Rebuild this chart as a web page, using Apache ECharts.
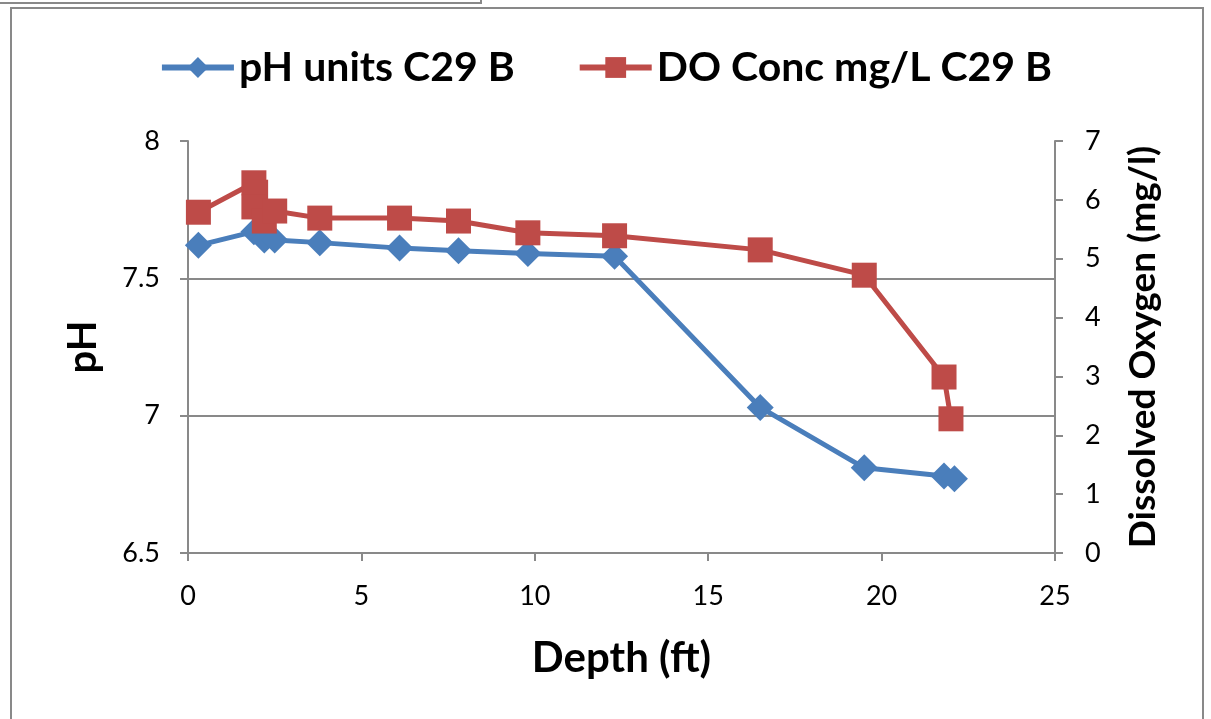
<!DOCTYPE html>
<html>
<head>
<meta charset="utf-8">
<script src="https://cdn.jsdelivr.net/npm/echarts@6/dist/echarts.min.js"></script>
<style>
  html, body { margin: 0; padding: 0; background: #fff; }
  #chart { width: 1211px; height: 719px; }
</style>
</head>
<body>
<div id="chart"></div>
<script>
// depth (ft) and pH readings
var phDepth  = [0.3, 1.9, 2.2, 2.5, 3.8, 6.1, 7.8, 9.8, 12.3, 16.5, 19.5, 21.8, 22.1];
var phValues = [7.62, 7.67, 7.64, 7.64, 7.63, 7.61, 7.60, 7.59, 7.58, 7.03, 6.81, 6.78, 6.77];

// depth (ft) and dissolved oxygen readings
var doDepth  = [0.3, 1.9, 1.95, 1.9, 2.2, 2.5, 3.8, 6.1, 7.8, 9.8, 12.3, 16.5, 19.5, 21.8, 22.0];
var doValues = [5.79, 6.29, 6.13, 5.88, 5.64, 5.81, 5.69, 5.69, 5.64, 5.44, 5.39, 5.15, 4.72, 2.99, 2.28];

var depthTicks = [0, 25, 5];
var phTicks = [6.5, 8, 0.5];
var doTicks = [0, 7, 1];

var blue = '#4a7ebb', red = '#be4b48', grey = '#898989';
var font = 'Lato, "Open Sans", sans-serif';

function pairs(xs, ys) {
    return xs.map(function (x, i) { return [x, ys[i]]; });
}

var chart = echarts.init(document.getElementById('chart'));
var frame = { stroke: grey, lineWidth: 2 };

chart.setOption({
    animation: false,
    textStyle: { fontFamily: font, color: '#000' },
    graphic: [
        { type: 'polyline', shape: { points: [[0, 3], [481, 3], [481, 0]] }, style: frame },
        { type: 'polyline', shape: { points: [[11, 719], [11, 8], [1203, 8], [1203, 719]] }, style: frame }
    ],
    legend: {
        top: 42,
        left: 'center',
        itemWidth: 72,
        itemHeight: 26,
        itemGap: 62,
        lineStyle: { width: 6 },
        textStyle: { fontSize: 41, fontWeight: 'bold', fontFamily: font, color: '#000' },
        data: ['pH units C29 B', 'DO Conc mg/L C29 B']
    },
    grid: { left: 188, right: 156, top: 141, bottom: 166 },
    xAxis: {
        type: 'value',
        min: depthTicks[0], max: depthTicks[1], interval: depthTicks[2],
        name: 'Depth (ft)',
        nameLocation: 'middle',
        nameGap: 84,
        nameTextStyle: { fontSize: 42, fontWeight: 'bold', color: '#000' },
        axisLine: { lineStyle: { color: grey, width: 2 } },
        axisTick: { length: 8, lineStyle: { color: grey, width: 2 } },
        axisLabel: { fontSize: 27, color: '#000', margin: 30 },
        splitLine: { show: false }
    },
    yAxis: [
        {
            type: 'value',
            min: phTicks[0], max: phTicks[1], interval: phTicks[2],
            name: 'pH',
            nameLocation: 'middle',
            nameRotate: 90,
            nameGap: 85,
            nameTextStyle: { fontSize: 40, fontWeight: 'bold', color: '#000' },
            axisLine: { show: true, lineStyle: { color: grey, width: 2 } },
            axisTick: { show: true, length: 8, lineStyle: { color: grey, width: 2 } },
            axisLabel: { fontSize: 27, color: '#000', margin: 28 },
            splitLine: { show: true, lineStyle: { color: [grey, grey, grey, 'rgba(0,0,0,0)'], width: 2 } }
        },
        {
            type: 'value',
            position: 'right',
            min: doTicks[0], max: doTicks[1], interval: doTicks[2],
            name: 'Dissolved Oxygen (mg/l)',
            nameLocation: 'middle',
            nameRotate: 90,
            nameGap: 70,
            nameTextStyle: { fontSize: 37, fontWeight: 'bold', color: '#000' },
            axisLine: { show: true, lineStyle: { color: grey, width: 2 } },
            axisTick: { show: true, length: 8, lineStyle: { color: grey, width: 2 } },
            axisLabel: { fontSize: 27, color: '#000', margin: 30 },
            splitLine: { show: false }
        }
    ],
    series: [
        {
            name: 'pH units C29 B',
            type: 'line',
            yAxisIndex: 0,
            data: pairs(phDepth, phValues),
            symbol: 'diamond',
            symbolSize: 27,
            itemStyle: { color: blue },
            lineStyle: { color: blue, width: 5 }
        },
        {
            name: 'DO Conc mg/L C29 B',
            type: 'line',
            yAxisIndex: 1,
            data: pairs(doDepth, doValues),
            symbol: 'rect',
            symbolSize: 25,
            itemStyle: { color: red },
            lineStyle: { color: red, width: 5 }
        }
    ]
});
</script>
</body>
</html>
